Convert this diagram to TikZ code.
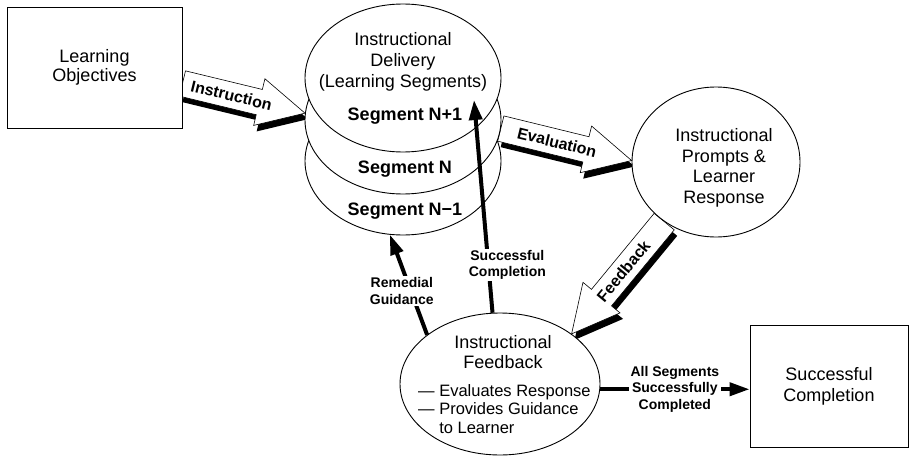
\documentclass[tikz,border=0pt]{standalone}
\usepackage{fontspec}
\setmainfont{Liberation Sans}
\usetikzlibrary{calc,shapes.geometric,arrows.meta,backgrounds}
\newcommand{\blockarrow}[5]{%
  \coordinate (#1S) at (#2);
  \coordinate (#1T) at (#3);
  \coordinate (#1H) at ($(#1T)!47pt!(#1S)$);
  \coordinate (#1a) at ($(#1S)!13pt!90:(#1T)$);
  \coordinate (#1b) at ($(#1H)!13pt!90:(#1T)$);
  \coordinate (#1c) at ($(#1H)!24pt!90:(#1T)$);
  \coordinate (#1d) at ($(#1H)!24pt!-90:(#1T)$);
  \coordinate (#1e) at ($(#1H)!13pt!-90:(#1T)$);
  \coordinate (#1f) at ($(#1S)!13pt!-90:(#1T)$);
  \fill[blockshadow, transform canvas={shift={(3pt,-6pt)}}] (#1a) -- (#1b) -- (#1c) -- (#1T) -- (#1d) -- (#1e) -- (#1f) -- cycle;
  \draw[blockbody] (#1a) -- (#1b) -- (#1c) -- (#1T) -- (#1d) -- (#1e) -- (#1f) -- cycle;
  \path (#1S) -- (#1T) node[arrowlabel, sloped, pos=#5] (#1L) {#4};
}
\begin{document}
\begin{tikzpicture}[x=1pt,y=-1pt,
  box/.style={draw, line width=0.9pt, fill=white, inner sep=0pt},
  oval/.style={ellipse, draw, line width=0.9pt, fill=white, inner sep=0pt},
  maintext/.style={font=\fontsize{18}{19.5}\selectfont, align=center, inner sep=0pt},
  segtext/.style={font=\bfseries\fontsize{18}{20}\selectfont, inner sep=0pt},
  flowlabel/.style={font=\bfseries\fontsize{14}{16.5}\selectfont, align=center, fill=white, inner sep=1.5pt},
  arrowlabel/.style={font=\bfseries\fontsize{16}{16}\selectfont, inner sep=0pt},
  thickarrow/.style={line width=4pt, -{Triangle[length=20pt,width=13pt]}},
  blockbody/.style={fill=white, draw, line width=0.6pt, line join=miter},
  blockshadow/.style={fill=black},
]
\useasboundingbox (0,0) rectangle (912,460);
\begin{scope}[on background layer]
  \fill[white] (0,0) rectangle (912,460);
\end{scope}

% boxes
\node[box, maintext, minimum width=175pt, minimum height=121pt] (lo) at (94.5,67.5) {Learning\\Objectives};
\node[box, maintext, font=\fontsize{18}{21}\selectfont, minimum width=158pt, minimum height=122pt] (sc) at (829,386) {Successful\\Completion};

% stack of segments
\node[oval, minimum width=196pt, minimum height=148pt] (e3) at (403,161) {};
\node[oval, minimum width=196pt, minimum height=148pt] (e2) at (403,120) {};
\node[oval, minimum width=196pt, minimum height=148pt] (e1) at (403,78) {};
\node[maintext, font=\fontsize{18}{21}\selectfont] (deltext) at (403,62) {Instructional\\Delivery\\(Learning Segments)};
\node[segtext] (s1) at (405,116) {Segment N+1};
\node[segtext] (s2) at (405,169) {Segment N};
\node[segtext] (s3) at (405,211) {Segment N−1};

% prompts
\node[oval, minimum width=168pt, minimum height=150pt] (pr) at (716,162) {};
\node[maintext, font=\fontsize{18}{20.5}\selectfont] (prtext) at (724,168) {Instructional\\Prompts \&\\Learner\\Response};

% feedback
\node[oval, minimum width=200pt, minimum height=142pt] (fb) at (500,384) {};
\node[maintext, font=\fontsize{18}{20}\selectfont] (fbtitle) at (503,352) {Instructional\\Feedback};
\node[maintext, align=left, anchor=north west, font=\fontsize{16.5}{18.5}\selectfont] (fblist) at (418,384) {— Evaluates Response\\— Provides Guidance\\\phantom{— }to Learner};

% block arrows
\begin{scope}[on background layer]
  \blockarrow{ia}{$(lo.east)+(0,16)$}{e2.176}{Instruction}{0.4}
  \blockarrow{ev}{e2.-5}{pr.179}{Evaluation}{0.43}
  \blockarrow{fa}{pr.229}{fb.35}{Feedback}{0.44}
\end{scope}

% thick arrows
\coordinate (e1tip) at ($(e1.center)+(71,22)$);
\draw[thickarrow] (fb.146) -- (e3.260) node[flowlabel, pos=0.44, xshift=-9pt] (rg) {Remedial\\Guidance};
\draw[thickarrow] (fb.96) -- (e1tip) node[flowlabel, pos=0.225, xshift=19pt] (sl) {Successful\\Completion};
\draw[thickarrow] (fb.-3) -- (fb.-3 -| sc.west) node[flowlabel, midway] (al) {All Segments\\Successfully\\Completed};
\end{tikzpicture}
\end{document}
